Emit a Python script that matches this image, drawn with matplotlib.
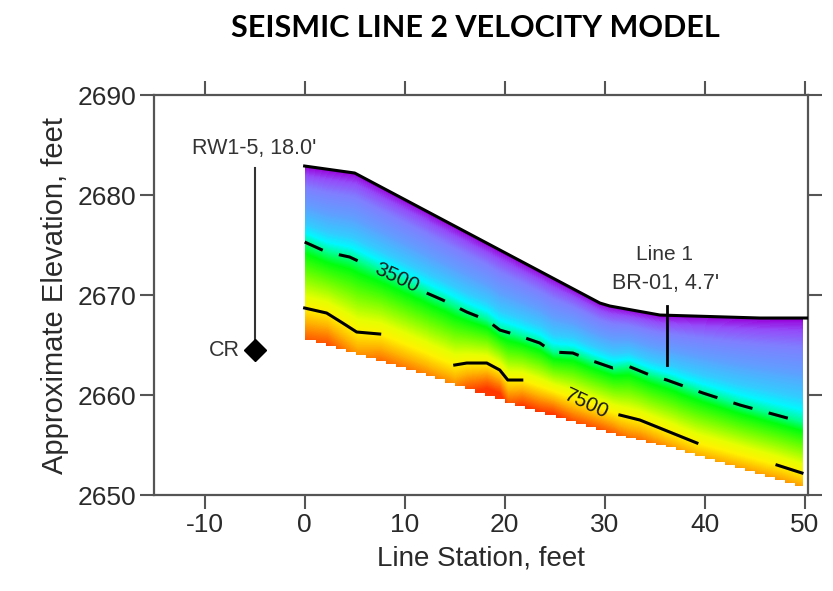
import numpy as np
import matplotlib
matplotlib.use("Agg")
import matplotlib.pyplot as plt
from matplotlib.colors import LinearSegmentedColormap, Normalize

# ---------------- data ----------------
surface_x = [0.0, 5.0, 29.5, 30.5, 35.5, 45.5, 50.25]
surface_z = [2682.9, 2682.2, 2669.2, 2668.9, 2668.0, 2667.7, 2667.7]

bottom_x = [0.0, 12.5, 21.5, 31.5, 36.5, 49.7]
bottom_z = [2665.7, 2661.9, 2658.9, 2655.9, 2654.8, 2650.8]

c3500_x = [0.0, 2.2, 4.5, 6.2, 12.2, 13.8, 16.2, 18.2, 19.5, 21.2, 23.5, 24.8,
           26.8, 28.5, 30.8, 32.3, 34.5, 36.2, 39.8, 43.5, 47.5, 49.7]
c3500_z = [2675.3, 2674.3, 2673.8, 2673.0, 2670.2, 2669.5, 2668.3, 2667.5, 2666.5,
           2666.0, 2665.2, 2664.3, 2664.2, 2663.5, 2662.7, 2662.9, 2662.0, 2661.5,
           2660.2, 2659.0, 2657.9, 2657.3]

c7500_a_x = [0.0, 2.2, 3.8, 5.2, 7.5]
c7500_a_z = [2668.7, 2668.2, 2667.2, 2666.3, 2666.1]
c7500_b_x = [15.0, 16.2, 18.2, 19.5, 20.3, 21.7]
c7500_b_z = [2663.0, 2663.2, 2663.2, 2662.5, 2661.5, 2661.5]
c7500_c_x = [31.5, 33.5, 39.2]
c7500_c_z = [2658.0, 2657.5, 2655.2]
c7500_d_x = [47.2, 49.7]
c7500_d_z = [2653.0, 2652.2]

v_surface = 1000.0
v_mid = 3500.0
v_deep = 7500.0

xticks = [-10, 0, 10, 20, 30, 40, 50]
yticks = [2650, 2660, 2670, 2680, 2690]

rw_x, rw_top, rw_cr = -5.0, 2682.7, 2664.5
br_x, br_top, br_bot = 36.2, 2668.9, 2663.0

# ---------------- figure ----------------
plt.rcParams["font.family"] = ["Liberation Sans", "DejaVu Sans"]
fig = plt.figure(figsize=(8.33, 5.91), dpi=100)
ax = fig.add_axes([0.1849, 0.1624, 0.7845, 0.6768])

# colour field
c7_x = np.array(c7500_a_x + c7500_b_x + c7500_c_x + c7500_d_x)
c7_z = np.array(c7500_a_z + c7500_b_z + c7500_c_z + c7500_d_z)
xs = np.linspace(0.0, bottom_x[-1], 500)
zs = np.linspace(2649.0, 2684.0, 701)
V = np.zeros((zs.size, xs.size))
mask = np.zeros_like(V, dtype=bool)
for j, x in enumerate(xs):
    s = np.interp(x, surface_x, surface_z)
    c3 = np.interp(x, c3500_x, c3500_z)
    c7 = np.interp(x, c7_x, c7_z)
    b = np.interp(x, bottom_x, bottom_z)
    grad = 0.8 * (v_deep - v_mid) / (c3 - c7)
    vb = v_deep + grad * (c7 - b)
    V[:, j] = np.interp(zs, [b - 1, c7, c3, s], [vb + grad, v_deep, v_mid, v_surface])
    bstep = np.interp(np.floor(x) + 0.5, bottom_x, bottom_z)
    mask[:, j] = (zs > s) | (zs < bstep)
Vm = np.ma.array(V, mask=mask)

anchors = [
    (1000, (0.60, 0.00, 0.85)),
    (1300, (0.58, 0.30, 0.98)),
    (1700, (0.50, 0.50, 1.00)),
    (2300, (0.38, 0.62, 1.00)),
    (2900, (0.20, 0.80, 1.00)),
    (3200, (0.00, 0.97, 1.00)),
    (3500, (0.00, 1.00, 0.55)),
    (4200, (0.00, 1.00, 0.05)),
    (5500, (0.45, 1.00, 0.00)),
    (6800, (0.90, 1.00, 0.00)),
    (7500, (1.00, 0.95, 0.00)),
    (8200, (1.00, 0.70, 0.00)),
    (8800, (1.00, 0.45, 0.00)),
    (9400, (1.00, 0.22, 0.00)),
]
vmin, vmax = anchors[0][0], anchors[-1][0]
cmap = LinearSegmentedColormap.from_list(
    "vel", [((v - vmin) / (vmax - vmin), c) for v, c in anchors])
ax.imshow(Vm, extent=[xs[0], xs[-1], zs[0], zs[-1]], origin="lower",
          aspect="auto", cmap=cmap, norm=Normalize(vmin, vmax),
          interpolation="nearest", zorder=1)

# surface line
ax.plot(surface_x, surface_z, color="black", lw=2.2, zorder=3)

# 3500 contour (dashed, gap for label)
c3x = np.array(c3500_x); c3z = np.array(c3500_z)
for sel in (c3x <= 6.2, c3x >= 12.2):
    ax.plot(c3x[sel], c3z[sel], color="black", lw=2.2, dashes=(6.5, 5.5), zorder=3)
ax.text(9.2, 2671.7, "3500", rotation=-25, ha="center", va="center",
        fontsize=15, color="#1a1a1a", zorder=4)

# 7500 contour segments
for sx, sz in ((c7500_a_x, c7500_a_z), (c7500_b_x, c7500_b_z),
               (c7500_c_x, c7500_c_z), (c7500_d_x, c7500_d_z)):
    ax.plot(sx, sz, color="black", lw=2.2, zorder=3)
ax.text(28.2, 2659.1, "7500", rotation=-25, ha="center", va="center",
        fontsize=15, color="#1a1a1a", zorder=4)

# boreholes / annotations
ax.plot([rw_x, rw_x], [rw_top, rw_cr], color="#333333", lw=1.5, zorder=3)
ax.plot([rw_x], [rw_cr], marker="D", color="black", markersize=11, zorder=4)
ax.text(rw_x, 2684.7, "RW1-5, 18.0'", ha="center", va="center",
        fontsize=15.5, color="#333333")
ax.text(-6.5, rw_cr, "CR", ha="right", va="center", fontsize=15.5, color="#333333")

ax.plot([br_x, br_x], [br_top, br_bot], color="black", lw=2.0, zorder=4)
ax.text(36.0, 2674.1, "Line 1", ha="center", va="center", fontsize=15, color="#333333")
ax.text(36.1, 2671.2, "BR-01, 4.7'", ha="center", va="center", fontsize=15.5,
        color="#333333")

# axes styling
ax.set_xlim(-15.05, 50.25)
ax.set_ylim(2650, 2690)
ax.set_xticks(xticks)
ax.set_yticks(yticks)
ax.set_xticklabels([str(t) for t in xticks])
ax.tick_params(direction="out", length=10, width=1.5, color="#555555",
               top=True, right=True, labelsize=19, labelcolor="#2a2a2a", pad=3)
for sp in ax.spines.values():
    sp.set_linewidth(1.6)
    sp.set_color("#555555")
ax.set_xlabel("Line Station, feet", fontsize=20, color="#2a2a2a", labelpad=6)
ax.set_ylabel("Approximate Elevation, feet", fontsize=21, color="#2a2a2a", labelpad=6)

fig.text(475 / 833, 1 - 28 / 591, "SEISMIC LINE 2 VELOCITY MODEL", ha="center",
         va="center", fontsize=22, fontweight="bold", family=["Lato", "DejaVu Sans"])

fig.savefig("out.png", dpi=100)
